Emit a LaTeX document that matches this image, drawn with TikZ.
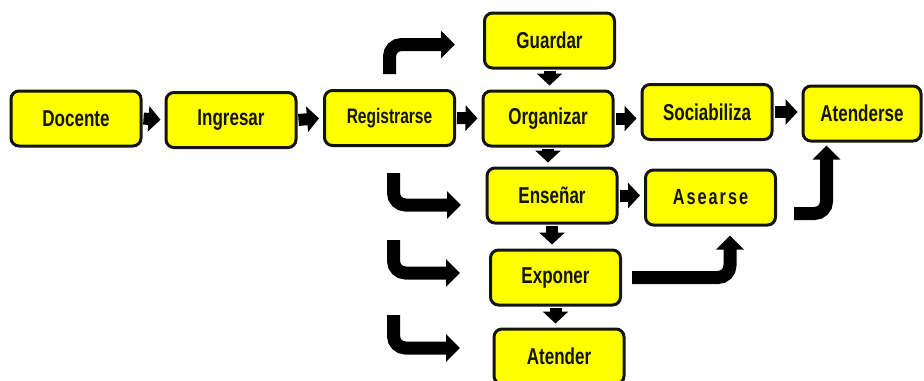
\documentclass[tikz,border=0pt]{standalone}
\usepackage{fontspec}
\setmainfont{Liberation Sans}[FakeStretch=0.74]
\usepackage{xcolor}
\usepackage{tikz}
\usetikzlibrary{arrows.meta, positioning, calc}
\definecolor{boxyellow}{RGB}{255,255,0}
\definecolor{boxdark}{RGB}{20,20,20}
\tikzset{
  paso/.style={rectangle, draw=boxdark, fill=boxyellow,
    minimum width=65pt, minimum height=27.5pt, align=center,
    font=\bfseries\fontsize{11.5}{13}\selectfont, text=boxdark,
    rounded corners=4pt, line width=1.5pt},
  flecha/.style={-{Triangle[length=6pt, width=12.5pt]}, line width=6pt,
    color=black, shorten >=2pt, shorten <=0.5pt},
  curva/.style={-{Triangle[length=7pt, width=13.5pt]}, line width=6.5pt,
    color=black, rounded corners=6pt}
}

\begin{document}
\begin{tikzpicture}[x=0.5pt, y=-0.5pt]
  \useasboundingbox (0,0) rectangle (924,380);
  \clip (0,0) rectangle (924,380);
  % cajas
  \node[paso] (docente) at (76,118.5) {Docente};
  \node[paso] (ingresar) at (231,120) {Ingresar};
  \node[paso, font=\bfseries\fontsize{10.5}{12}\selectfont] (registrarse) at (389.5,118) {Registrarse};
  \node[paso] (guardar) at (549.5,40.5) {Guardar};
  \node[paso] (organizar) at (548,118.5) {Organizar};
  \node[paso] (sociabiliza) at (707,112) {Sociabiliza};
  \node[paso, minimum width=59pt] (atenderse) at (862,113.5) {Atenderse};
  \node[paso] (ensenar) at (552,195.5) {Enseñar};
  \node[paso, font=\bfseries\fontsize{11}{12}\selectfont\addfontfeature{LetterSpace=9}] (asearse) at (710.5,197.5) {Asearse};
  \node[paso] (exponer) at (555.5,277.5) {Exponer};
  \node[paso] (atender) at (559,356.5) {Atender};
  % extremos libres
  \coordinate (topfin) at (455,44.5);
  \coordinate (b1ini) at (393.5,173);
  \coordinate (b1fin) at (461,205);
  \coordinate (b2ini) at (393.5,240);
  \coordinate (b2fin) at (460,273);
  \coordinate (b3ini) at (393.5,315);
  \coordinate (b3fin) at (460,348);
  \coordinate (asini) at (794,213.5);
  % flechas cortas
  \draw[flecha] (docente.east) -- (ingresar.west);
  \draw[flecha] (ingresar.east) -- (registrarse.west);
  \draw[flecha] (registrarse.east) -- (organizar.west);
  \draw[flecha] (organizar.east) -- (organizar.east -| sociabiliza.west);
  \draw[flecha] (sociabiliza.east) -- (sociabiliza.east -| atenderse.west);
  \draw[flecha] (ensenar.east) -- (ensenar.east -| asearse.west);
  \draw[flecha] (guardar.south) -- (guardar.south |- organizar.north);
  \draw[flecha] (organizar.south) -- (organizar.south |- ensenar.north);
  \draw[flecha] (ensenar.south) -- (ensenar.south |- exponer.north);
  \draw[flecha] (exponer.south) -- (exponer.south |- atender.north);
  % flechas curvas
  \draw[curva] ([yshift=7.5pt]registrarse.north) |- (topfin);
  \draw[curva] (b1ini) |- (b1fin);
  \draw[curva] (b2ini) |- (b2fin);
  \draw[curva] (b3ini) |- (b3fin);
  \draw[curva, shorten <=5pt, shorten >=4.5pt] (exponer.east) -| ([xshift=9.75pt]asearse.south);
  \draw[curva, shorten >=1.5pt] (asini) -| ([xshift=-17.75pt]atenderse.south);
\end{tikzpicture}
\end{document}
